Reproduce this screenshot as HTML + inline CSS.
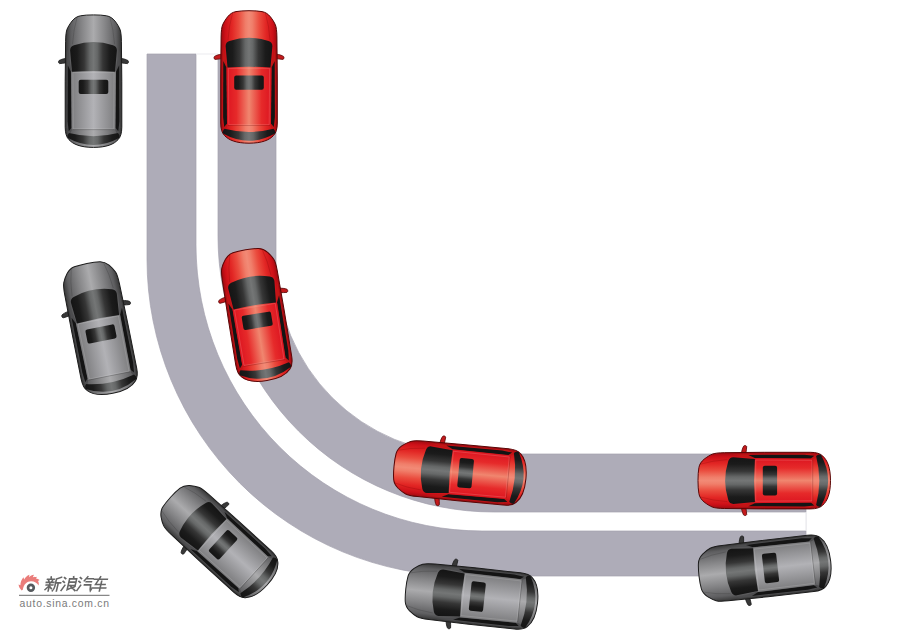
<!DOCTYPE html>
<html><head><meta charset="utf-8">
<style>
html,body{margin:0;padding:0;background:#fff;}
body{width:906px;height:633px;overflow:hidden;position:relative;font-family:"Liberation Sans",sans-serif;}
svg{position:absolute;left:0;top:0;}
</style></head><body>
<svg width="906" height="633" viewBox="0 0 906 633">
<defs>
  <linearGradient id="bodyr" x1="0" x2="1" y1="0" y2="0"><stop offset="0" stop-color="#9a0a10"/><stop offset="0.08" stop-color="#cc1018"/><stop offset="0.2" stop-color="#e22624"/><stop offset="0.32" stop-color="#ea4c3e"/><stop offset="0.44" stop-color="#f07e6a"/><stop offset="0.5" stop-color="#f28a76"/><stop offset="0.56" stop-color="#f07e6a"/><stop offset="0.68" stop-color="#ea4c3e"/><stop offset="0.8" stop-color="#e22624"/><stop offset="0.92" stop-color="#cc1018"/><stop offset="1" stop-color="#9a0a10"/></linearGradient>
  <linearGradient id="roofr" x1="0" x2="1" y1="0" y2="0"><stop offset="0" stop-color="#dc1420"/><stop offset="0.22" stop-color="#e62a2a"/><stop offset="0.5" stop-color="#f0866f"/><stop offset="0.78" stop-color="#e62a2a"/><stop offset="1" stop-color="#dc1420"/></linearGradient>
  <linearGradient id="bodyg" x1="0" x2="1" y1="0" y2="0"><stop offset="0" stop-color="#333333"/><stop offset="0.1" stop-color="#5e5e60"/><stop offset="0.3" stop-color="#868688"/><stop offset="0.5" stop-color="#ababad"/><stop offset="0.7" stop-color="#868688"/><stop offset="0.9" stop-color="#5e5e60"/><stop offset="1" stop-color="#333333"/></linearGradient>
  <linearGradient id="roofg" x1="0" x2="1" y1="0" y2="0"><stop offset="0" stop-color="#7c7c7e"/><stop offset="0.5" stop-color="#b2b2b6"/><stop offset="1" stop-color="#7c7c7e"/></linearGradient>
  <linearGradient id="win" x1="0" x2="1" y1="0" y2="0"><stop offset="0" stop-color="#141414"/><stop offset="0.15" stop-color="#1b1b1b"/><stop offset="0.3" stop-color="#363636"/><stop offset="0.42" stop-color="#666868"/><stop offset="0.5" stop-color="#747676"/><stop offset="0.58" stop-color="#666868"/><stop offset="0.7" stop-color="#363636"/><stop offset="0.85" stop-color="#1b1b1b"/><stop offset="1" stop-color="#141414"/></linearGradient>
  <g id="carr">
  <path d="M-27.5,-22.8 C-30.5,-22.4 -33,-21.6 -34.5,-20.6 C-35.3,-19.9 -35.1,-18 -34,-17.6 C-32,-17.5 -29.5,-18.2 -27.5,-18.4 Z" fill="#c41a1c" stroke="#5a0606" stroke-width="0.8"/>
  <path d="M27.5,-22.8 C30.5,-22.4 33,-21.6 34.5,-20.6 C35.3,-19.9 35.1,-18 34,-17.6 C32,-17.5 29.5,-18.2 27.5,-18.4 Z" fill="#c41a1c" stroke="#5a0606" stroke-width="0.8"/>
  <path d="M0,-66.3 Q-8,-66.3 -13,-65.4 C-16.5,-64.8 -19,-63 -21.4,-60.2 C-23.5,-57.5 -25.4,-54.5 -26.4,-52.1 C-27.3,-50 -27.8,-46 -27.9,-40 L-28.3,0 L-28.3,46 C-28.3,52 -27,56 -24.5,58.5 C-20.5,63 -13,66.2 0,66.2 C13,66.2 20.5,63 24.5,58.5 C27,56 28.3,52 28.3,46 L28.3,0 L27.9,-40 C27.8,-46 27.3,-50 26.4,-52.1 C25.4,-54.5 23.5,-57.5 21.4,-60.2 C19,-63 16.5,-64.8 13,-65.4 Q8,-66.3 0,-66.3 Z" fill="url(#bodyr)" stroke="#5a0606" stroke-width="1"/>
  <path d="M-26.2,-32 L-21.8,-9.5 L-21.4,48 L-23.5,53 L-26.8,46 Z" fill="#c01616"/>
  <path d="M26.2,-32 L21.8,-9.5 L21.4,48 L23.5,53 L26.8,46 Z" fill="#c01616"/>
  <path d="M-25.7,-16 L-22.6,-9.4 L-22,46.5 L-24.8,50 L-25.9,40 Z" fill="#141414"/>
  <path d="M25.7,-16 L22.6,-9.4 L22,46.5 L24.8,50 L25.9,40 Z" fill="#141414"/>
  <path d="M-22.4,-9.8 L22.4,-9.8 L21.8,48.2 L-21.8,48.2 Z" fill="url(#roofr)"/>
  <path d="M-21,48.4 L21,48.4" stroke="#5a0606" stroke-width="0.5" opacity="0.5"/>
  <path d="M-20.6,-8.6 L20.6,-8.6 L20.2,47.6 L-20.2,47.6 Z" fill="none" stroke="rgba(255,190,180,0.35)" stroke-width="0.6"/>
  <path d="M-21,-37 Q-20,-52 -16.5,-63.5 M21,-37 Q20,-52 16.5,-63.5" fill="none" stroke="rgba(110,0,0,0.35)" stroke-width="0.6"/>
  <path d="M-23.4,-31 Q-23.3,-34.8 -19.5,-36 Q0,-42.3 19.5,-36 Q23.3,-34.8 23.4,-31 L21.5,-9.4 Q0,-11 -21.5,-9.4 Z" fill="url(#win)"/>
  <rect x="-14.8" y="-1.5" width="29.6" height="14.3" rx="2" fill="url(#win)"/>
  <path d="M-24.5,51.8 Q0,58.2 24.5,51.8 Q26.6,53.5 26,56.5 Q0,71.1 -26,56.5 Q-26.6,53.5 -24.5,51.8 Z" fill="url(#win)"/>
</g>
  <g id="carg">
  <path d="M-27.5,-22.8 C-30.5,-22.4 -33,-21.6 -34.5,-20.6 C-35.3,-19.9 -35.1,-18 -34,-17.6 C-32,-17.5 -29.5,-18.2 -27.5,-18.4 Z" fill="#383838" stroke="#1c1c1c" stroke-width="0.8"/>
  <path d="M27.5,-22.8 C30.5,-22.4 33,-21.6 34.5,-20.6 C35.3,-19.9 35.1,-18 34,-17.6 C32,-17.5 29.5,-18.2 27.5,-18.4 Z" fill="#383838" stroke="#1c1c1c" stroke-width="0.8"/>
  <path d="M0,-66.3 Q-8,-66.3 -13,-65.4 C-16.5,-64.8 -19,-63 -21.4,-60.2 C-23.5,-57.5 -25.4,-54.5 -26.4,-52.1 C-27.3,-50 -27.8,-46 -27.9,-40 L-28.3,0 L-28.3,46 C-28.3,52 -27,56 -24.5,58.5 C-20.5,63 -13,66.2 0,66.2 C13,66.2 20.5,63 24.5,58.5 C27,56 28.3,52 28.3,46 L28.3,0 L27.9,-40 C27.8,-46 27.3,-50 26.4,-52.1 C25.4,-54.5 23.5,-57.5 21.4,-60.2 C19,-63 16.5,-64.8 13,-65.4 Q8,-66.3 0,-66.3 Z" fill="url(#bodyg)" stroke="#1c1c1c" stroke-width="1"/>
  <path d="M-26.2,-32 L-21.8,-9.5 L-21.4,48 L-23.5,53 L-26.8,46 Z" fill="#4c4c4e"/>
  <path d="M26.2,-32 L21.8,-9.5 L21.4,48 L23.5,53 L26.8,46 Z" fill="#4c4c4e"/>
  <path d="M-25.7,-16 L-22.6,-9.4 L-22,46.5 L-24.8,50 L-25.9,40 Z" fill="#141414"/>
  <path d="M25.7,-16 L22.6,-9.4 L22,46.5 L24.8,50 L25.9,40 Z" fill="#141414"/>
  <path d="M-22.4,-9.8 L22.4,-9.8 L21.8,48.2 L-21.8,48.2 Z" fill="url(#roofg)"/>
  <path d="M-21,48.4 L21,48.4" stroke="#1c1c1c" stroke-width="0.5" opacity="0.5"/>
  <path d="M-20.6,-8.6 L20.6,-8.6 L20.2,47.6 L-20.2,47.6 Z" fill="none" stroke="rgba(255,255,255,0.22)" stroke-width="0.6"/>
  <path d="M-21,-37 Q-20,-52 -16.5,-63.5 M21,-37 Q20,-52 16.5,-63.5" fill="none" stroke="rgba(40,40,40,0.35)" stroke-width="0.6"/>
  <path d="M-23.4,-31 Q-23.3,-34.8 -19.5,-36 Q0,-42.3 19.5,-36 Q23.3,-34.8 23.4,-31 L21.5,-9.4 Q0,-11 -21.5,-9.4 Z" fill="url(#win)"/>
  <rect x="-14.8" y="-1.5" width="29.6" height="14.3" rx="2" fill="url(#win)"/>
  <path d="M-24.5,51.8 Q0,58.2 24.5,51.8 Q26.6,53.5 26,56.5 Q0,71.1 -26,56.5 Q-26.6,53.5 -24.5,51.8 Z" fill="url(#win)"/>
</g>
</defs>
<rect width="906" height="633" fill="#fff"/>
<path d="M147,54 L147,259 A317,317 0 0 0 464,576 L806,576 L806,531 L482.1,531 A286.1,286.1 0 0 1 196,244.9 L196,54 Z" fill="#aeacb8" stroke="#a3a1ae" stroke-width="0.7"/>
<path d="M218,59 L218,236.3 A275.7,275.7 0 0 0 493.7,512 L806,512 L806,454 L468.1,454 A192.1,192.1 0 0 1 276,261.9 L276,59 Z" fill="#aeacb8" stroke="#a3a1ae" stroke-width="0.7"/>
<rect x="196" y="53.5" width="22" height="1" fill="#ebebef"/>
<rect x="805.6" y="512" width="1" height="19" fill="#e2e2e6"/>
<use href="#carg" transform="translate(93.5,81.2) rotate(0) scale(1)"/>
<use href="#carr" transform="translate(249.0,77.0) rotate(0) scale(1)"/>
<use href="#carg" transform="translate(99.9,328.4) rotate(-11.3) scale(1)"/>
<use href="#carr" transform="translate(256.3,315.2) rotate(-9.3) scale(1)"/>
<use href="#carg" transform="translate(219.0,541.0) rotate(-47.6) scale(0.985)"/>
<use href="#carr" transform="translate(460.0,472.6) rotate(-84.6) scale(1)"/>
<use href="#carr" transform="translate(764.3,480.6) rotate(-90) scale(1)"/>
<use href="#carg" transform="translate(471.7,596.0) rotate(-83.9) scale(1)"/>
<use href="#carg" transform="translate(764.9,568.6) rotate(-96.5) scale(1)"/>
<g id="wm">
  <path d="M21.6,590.4 C20,588.6 18.6,586.6 18.6,584.4 L20.4,585.2 C20.4,582.2 21.4,579.8 23.4,577.2 L24.2,579.4 C25.2,577.4 27,575.8 29.4,574.8 L29,577.2 C30.4,575.8 32,575 34,574.8 L32.8,577.2 C34.6,577 36,577.2 37,576.8 L36,578.6 C37.4,578.8 38.6,579.4 39.6,580 L38,581 C38.8,582.2 39,583.6 38.6,585.4 C37.2,583 34.6,581.2 31,581.2 C27,581.2 23.8,584 22.8,589.8 Z" fill="#ea7c7a"/>
  <circle cx="30.9" cy="587.8" r="2.85" fill="none" stroke="#565a5e" stroke-width="2.7"/>
  <g transform="translate(45.5,576.6) skewX(-13) translate(2,0) scale(1.04)" fill="none" stroke="#666" stroke-width="1.55" stroke-linecap="square">
    <path d="M3.6,0.3 L4,1.6 M0.6,2.6 H7 M2,3.7 L2.6,5 M5.6,3.7 L5,5 M0.2,5.6 H7.4 M0.6,8.1 H7 M3.8,5.6 V13.8 M3.4,9.2 L0.6,12.4 M4.3,9.6 L6.4,11.6"/>
    <path d="M13.6,0.6 L9.2,2.4 M9.2,2.4 V9.5 Q9.1,12 7.8,13.6 M9.2,6 H14 M11.8,6 V13.9"/>
  </g>
  <g transform="translate(61.7,576.6) skewX(-13) translate(2,0) scale(1.04)" fill="none" stroke="#666" stroke-width="1.55" stroke-linecap="square">
    <path d="M1,0.9 L2.4,2 M0.5,4.6 L1.9,5.6 M0.6,13.2 L3,8.4"/>
    <path d="M9.6,0.1 L10,1.5 M6.2,2.2 H13 V8.6 H6.2 M6.2,2.2 V12.6 L9,11.2 M6.2,5.3 H13 M8.2,8.6 L13.9,13.4 M13,9.6 L10.6,11"/>
  </g>
  <g transform="translate(77.5,576.6) skewX(-13) translate(2,0) scale(1.04)" fill="none" stroke="#666" stroke-width="1.55" stroke-linecap="square">
    <path d="M1,0.9 L2.4,2 M0.5,4.6 L1.9,5.6 M0.6,13.2 L3,8.4"/>
    <path d="M8,0.2 L5.6,4 M7.2,2.1 H13.6 M7.6,5 H12.6 M6.6,8 H12.6 Q12.8,12 13.6,13.6 L14.2,12.2"/>
  </g>
  <g transform="translate(92.2,576.6) skewX(-13) translate(2,0) scale(1.04)" fill="none" stroke="#666" stroke-width="1.55" stroke-linecap="square">
    <path d="M0.8,2.6 H13.2 M6.2,0.3 L3,7.6 H12.2 M8.2,4.6 V13.9 M0.4,11 H13.6"/>
  </g>
  <rect x="19" y="594.8" width="90.5" height="1" fill="#6a6a6a"/>
  <text x="19.5" y="606.9" font-family="Liberation Sans" font-size="10.4" fill="#7a7a7a" letter-spacing="0.73">auto.sina.com.cn</text>
</g>
</svg>
</body></html>
